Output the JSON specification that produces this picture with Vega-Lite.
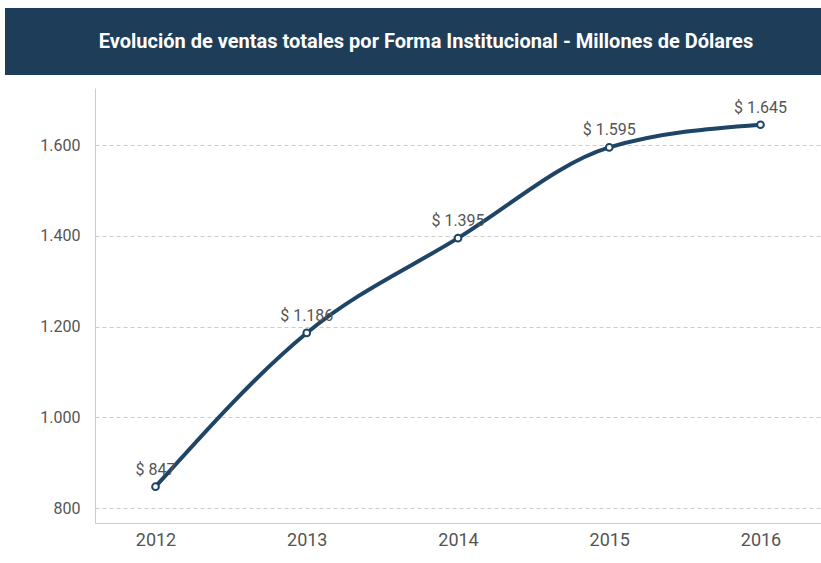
{
  "$schema": "https://vega.github.io/schema/vega-lite/v6.json",
  "padding": {"left": 5, "top": 8, "right": 0, "bottom": 0},
  "background": "white",
  "spacing": 13,
  "vconcat": [
    {
      "width": 726,
      "height": 67,
      "view": {"fill": "#1e3d58", "stroke": null},
      "data": {"values": [{"t": "Evolución de ventas totales por Forma Institucional - Millones de Dólares", "pos": 0.5}]},
      "mark": {"type": "text", "font": "Roboto", "fontWeight": "bold", "fontSize": 20, "color": "white", "align": "center", "baseline": "middle", "dx": -32},
      "encoding": {
        "text": {"field": "t"},
        "y": {"field": "pos", "type": "quantitative", "scale": {"domain": [0, 1]},
          "axis": {"title": null, "labels": false, "ticks": false, "grid": false, "domain": true, "domainColor": "#1e3d58", "domainWidth": 180, "minExtent": 90, "translate": 0}}
      }
    },
    {
      "width": 726,
      "height": 435,
      "view": {"stroke": null},
      "data": {"values": [
        {"year": "2012", "value": 847, "label": "$ 847"},
        {"year": "2013", "value": 1186, "label": "$ 1.186"},
        {"year": "2014", "value": 1395, "label": "$ 1.395"},
        {"year": "2015", "value": 1595, "label": "$ 1.595"},
        {"year": "2016", "value": 1645, "label": "$ 1.645"}
      ]},
      "encoding": {
        "x": {"field": "year", "type": "ordinal", "scale": {"type": "point", "padding": 0.4},
          "axis": {"title": null, "labelAngle": 0, "ticks": false, "grid": false, "domainColor": "#cccccc", "labelColor": "#555555", "labelFont": "Roboto", "labelFontSize": 18, "labelPadding": 8}},
        "y": {"field": "value", "type": "quantitative", "scale": {"domain": [767, 1726], "nice": false, "zero": false},
          "axis": {"title": null, "values": [800, 1000, 1200, 1400, 1600], "ticks": false, "minExtent": 90, "labelPadding": 15, "domainColor": "#cccccc", "gridColor": "#cccccc", "gridDash": [4, 3], "labelColor": "#555555", "labelFont": "Roboto", "labelFontSize": 16,
            "labelExpr": "replace(format(datum.value, ','), ',', '.')"}}
      },
      "layer": [
        {"mark": {"type": "line", "interpolate": "monotone", "color": "#1e4466", "strokeWidth": 4}},
        {"mark": {"type": "point", "filled": true, "fill": "white", "stroke": "#1e4466", "strokeWidth": 2, "size": 45, "opacity": 1}},
        {"mark": {"type": "text", "dy": -17, "font": "Roboto", "fontSize": 16, "color": "#555555"}, "encoding": {"text": {"field": "label"}}}
      ]
    }
  ]
}
